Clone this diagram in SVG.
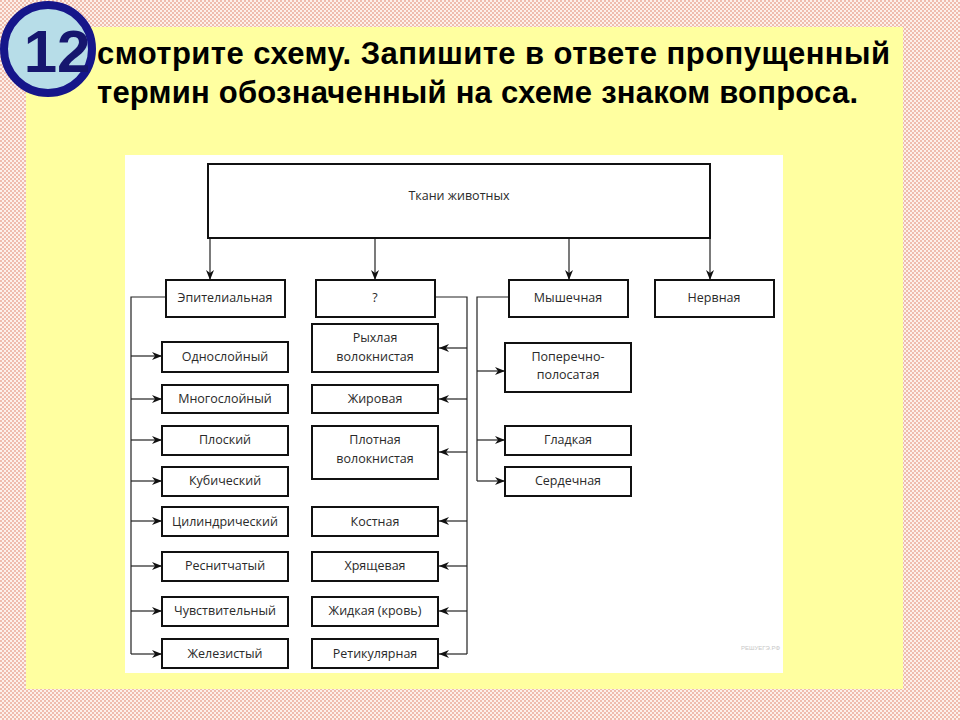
<svg xmlns="http://www.w3.org/2000/svg" width="960" height="720" viewBox="0 0 960 720">
<defs>
<pattern id="bg" width="4" height="4" patternUnits="userSpaceOnUse">
<rect width="4" height="4" fill="#fdf0ea"/>
<rect width="2" height="2" fill="#efbcae"/>
<rect x="2" y="2" width="2" height="2" fill="#efbcae"/>
</pattern>
<marker id="ar" viewBox="0 0 10 8" refX="10" refY="4" markerWidth="10" markerHeight="8" markerUnits="userSpaceOnUse" orient="auto">
<path d="M0,0 L10,4 L0,8 L3,4 z" fill="#111"/>
</marker>
<style>
.box{fill:#fff;stroke:#111;stroke-width:2}
.lbl{font-family:"Open Sans","DejaVu Sans",sans-serif;font-size:12.5px;fill:#2a2a2a;text-anchor:middle}
.ttl{font-family:"Liberation Sans",Arial,sans-serif;font-weight:bold;font-size:31px;fill:#000}
.con{fill:none;stroke:#222;stroke-width:1.2}
.arr{fill:none;stroke:#222;stroke-width:1.2;marker-end:url(#ar)}
</style>
</defs>
<rect width="960" height="720" fill="url(#bg)"/>
<rect x="26" y="27" width="877" height="662" fill="#ffffa0"/>
<rect x="125" y="155" width="658" height="518" fill="#fff"/>

<g id="title">
<text class="ttl" x="97" y="64" textLength="793" lengthAdjust="spacing">смотрите схему. Запишите в ответе пропущенный</text>
<text class="ttl" x="97" y="103" textLength="761" lengthAdjust="spacing">термин обозначенный на схеме знаком вопроса.</text>
</g>

<g id="badge">
<circle cx="48" cy="49" r="44" fill="#b7dde8" stroke="#16168a" stroke-width="8"/>
<text x="57" y="72" font-family="Liberation Sans, Arial, sans-serif" font-weight="bold" font-size="60" fill="#16166e" text-anchor="middle">12</text>
</g>

<g id="connectors">
<line class="arr" x1="210" y1="238" x2="210" y2="280"/>
<line class="arr" x1="375" y1="238" x2="375" y2="280"/>
<line class="arr" x1="569" y1="238" x2="569" y2="280"/>
<line class="arr" x1="710" y1="238" x2="710" y2="280"/>
<path class="con" d="M166,297 H131 V654"/>
<line class="arr" x1="131" y1="356" x2="162" y2="356"/>
<line class="arr" x1="131" y1="399" x2="162" y2="399"/>
<line class="arr" x1="131" y1="440" x2="162" y2="440"/>
<line class="arr" x1="131" y1="481" x2="162" y2="481"/>
<line class="arr" x1="131" y1="521" x2="162" y2="521"/>
<line class="arr" x1="131" y1="566" x2="162" y2="566"/>
<line class="arr" x1="131" y1="611" x2="162" y2="611"/>
<line class="arr" x1="131" y1="654" x2="162" y2="654"/>
<path class="con" d="M435,297 H467 V654"/>
<line class="arr" x1="467" y1="348" x2="439" y2="348"/>
<line class="arr" x1="467" y1="399" x2="439" y2="399"/>
<line class="arr" x1="467" y1="452" x2="439" y2="452"/>
<line class="arr" x1="467" y1="521" x2="439" y2="521"/>
<line class="arr" x1="467" y1="566" x2="439" y2="566"/>
<line class="arr" x1="467" y1="611" x2="439" y2="611"/>
<line class="arr" x1="467" y1="654" x2="439" y2="654"/>
<path class="con" d="M509,297 H477 V481"/>
<line class="arr" x1="477" y1="371" x2="505" y2="371"/>
<line class="arr" x1="477" y1="440" x2="505" y2="440"/>
<line class="arr" x1="477" y1="481" x2="505" y2="481"/>
</g>

<g id="n-root"><rect class="box" x="208" y="164" width="502" height="74" stroke-width="2.4"/><text class="lbl" x="459" y="200" font-size="11.5">Ткани животных</text></g>

<g id="n-epit"><rect class="box" x="166" y="280" width="119" height="37"/><text class="lbl" x="225" y="302">Эпителиальная</text></g>
<g id="n-q"><rect class="box" x="316" y="280" width="119" height="37"/><text class="lbl" x="375" y="302">?</text></g>
<g id="n-musc"><rect class="box" x="509" y="280" width="119" height="37"/><text class="lbl" x="568" y="302">Мышечная</text></g>
<g id="n-nerv"><rect class="box" x="655" y="280" width="119" height="37"/><text class="lbl" x="714" y="302">Нервная</text></g>

<g id="n-e1"><rect class="box" x="162" y="342" width="126" height="30"/><text class="lbl" x="225" y="361">Однослойный</text></g>
<g id="n-e2"><rect class="box" x="162" y="385" width="126" height="28"/><text class="lbl" x="225" y="403">Многослойный</text></g>
<g id="n-e3"><rect class="box" x="162" y="426" width="126" height="29"/><text class="lbl" x="225" y="444">Плоский</text></g>
<g id="n-e4"><rect class="box" x="162" y="467" width="126" height="29"/><text class="lbl" x="225" y="485">Кубический</text></g>
<g id="n-e5"><rect class="box" x="162" y="507" width="126" height="29"/><text class="lbl" x="225" y="526">Цилиндрический</text></g>
<g id="n-e6"><rect class="box" x="162" y="552" width="126" height="29"/><text class="lbl" x="225" y="570">Реснитчатый</text></g>
<g id="n-e7"><rect class="box" x="162" y="597" width="126" height="29"/><text class="lbl" x="225" y="615">Чувствительный</text></g>
<g id="n-e8"><rect class="box" x="162" y="639" width="126" height="29"/><text class="lbl" x="225" y="658">Железистый</text></g>

<g id="n-c1"><rect class="box" x="312" y="324" width="126" height="48"/><text class="lbl" x="375" y="342">Рыхлая</text><text class="lbl" x="375" y="361">волокнистая</text></g>
<g id="n-c2"><rect class="box" x="312" y="385" width="126" height="28"/><text class="lbl" x="375" y="403">Жировая</text></g>
<g id="n-c3"><rect class="box" x="312" y="426" width="126" height="53"/><text class="lbl" x="375" y="444">Плотная</text><text class="lbl" x="375" y="463">волокнистая</text></g>
<g id="n-c4"><rect class="box" x="312" y="507" width="126" height="29"/><text class="lbl" x="375" y="526">Костная</text></g>
<g id="n-c5"><rect class="box" x="312" y="552" width="126" height="29"/><text class="lbl" x="375" y="570">Хрящевая</text></g>
<g id="n-c6"><rect class="box" x="312" y="597" width="126" height="29"/><text class="lbl" x="375" y="615">Жидкая (кровь)</text></g>
<g id="n-c7"><rect class="box" x="312" y="639" width="126" height="29"/><text class="lbl" x="375" y="658">Ретикулярная</text></g>

<g id="n-m1"><rect class="box" x="505" y="343" width="126" height="49"/><text class="lbl" x="568" y="361">Поперечно-</text><text class="lbl" x="568" y="379">полосатая</text></g>
<g id="n-m2"><rect class="box" x="505" y="426" width="126" height="29"/><text class="lbl" x="568" y="444">Гладкая</text></g>
<g id="n-m3"><rect class="box" x="505" y="467" width="126" height="29"/><text class="lbl" x="568" y="485">Сердечная</text></g>

<text x="780" y="650" font-family="Liberation Sans, Arial, sans-serif" font-size="6" fill="#c8c8c8" text-anchor="end">РЕШУЕГЭ.РФ</text>
</svg>
